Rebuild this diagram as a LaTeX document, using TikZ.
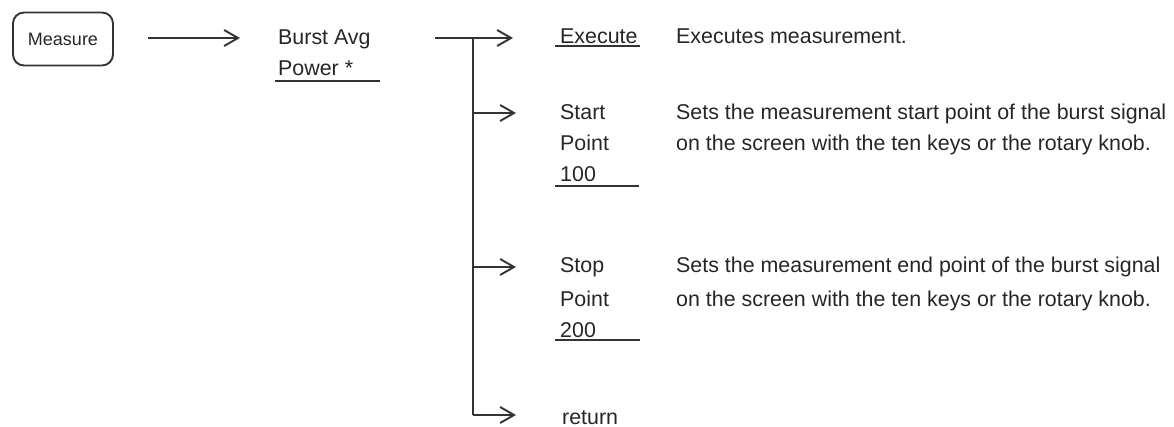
\documentclass[tikz,border=0pt]{standalone}
\usepackage{fontspec}
\setmainfont{Liberation Sans}
\usetikzlibrary{arrows.meta}
\begin{document}
\begin{tikzpicture}[x=1pt,y=-1pt,
  ln/.style={line width=1.9pt,draw=black!80},
  arr/.style={ln,-{Straight Barb[length=14pt,width=16pt,line width=1.9pt]}},
  lbl/.style={anchor=base west,inner sep=0pt,font=\fontsize{21.4}{24}\selectfont,text=black!85},
  ul/.style={line width=2pt,draw=black!80}]
\useasboundingbox (0,0) rectangle (1174,427);
% Measure key
\node[ln,rounded corners=11pt,minimum width=100pt,minimum height=53pt,inner sep=0pt,
  font=\fontsize{18}{20}\selectfont,text=black!85] (measure) at (63,39) {Measure};
\coordinate (a1s) at (148,38);
\coordinate (a1e) at (240,38);
\draw[arr] (a1s) -- (a1e);
% Burst Avg Power
\node[lbl] (burst) at (278,45) {Burst Avg};
\node[lbl] (power) at (278,76) {Power *};
\coordinate (ulp1) at (275,81); \coordinate (ulp2) at (380,81);
\draw[ul] (ulp1) -- (ulp2);
% trunk
\coordinate (ts) at (435,38);
\coordinate (tj) at (473,38);
\coordinate (tstart) at (473,113);
\coordinate (tstop) at (473,267);
\coordinate (tret) at (473,415);
\coordinate (hexe) at (513,38);
\coordinate (hstart) at (516,113);
\coordinate (hstop) at (516,267);
\coordinate (hret) at (516,415);
\draw[arr] (ts) -- (hexe);
\draw[ln] (tj) -- (tret);
\draw[arr] (tstart) -- (hstart);
\draw[arr] (tstop) -- (hstop);
\draw[arr] (tret) -- (hret);
% Execute
\node[lbl] (exe) at (560,44) {Execute};
\coordinate (ule1) at (555,46); \coordinate (ule2) at (640,46);
\draw[ul] (ule1) -- (ule2);
\node[lbl] (exed) at (676,44) {Executes measurement.};
% Start Point
\node[lbl] (start1) at (560,120) {Start};
\node[lbl] (start2) at (560,151) {Point};
\node[lbl] (start3) at (560,182) {100};
\coordinate (uls1) at (555,186); \coordinate (uls2) at (639,186);
\draw[ul] (uls1) -- (uls2);
\node[lbl] (startd1) at (676,120) {Sets the measurement start point of the burst signal};
\node[lbl] (startd2) at (676,151) {on the screen with the ten keys or the rotary knob.};
% Stop Point
\node[lbl] (stop1) at (560,273) {Stop};
\node[lbl] (stop2) at (560,306) {Point};
\node[lbl] (stop3) at (560,337) {200};
\coordinate (ult1) at (555,340); \coordinate (ult2) at (640,340);
\draw[ul] (ult1) -- (ult2);
\node[lbl] (stopd1) at (676,273) {Sets the measurement end point of the burst signal};
\node[lbl] (stopd2) at (676,306) {on the screen with the ten keys or the rotary knob.};
% return
\node[lbl] (ret) at (562,424) {return};
\end{tikzpicture}
\end{document}
